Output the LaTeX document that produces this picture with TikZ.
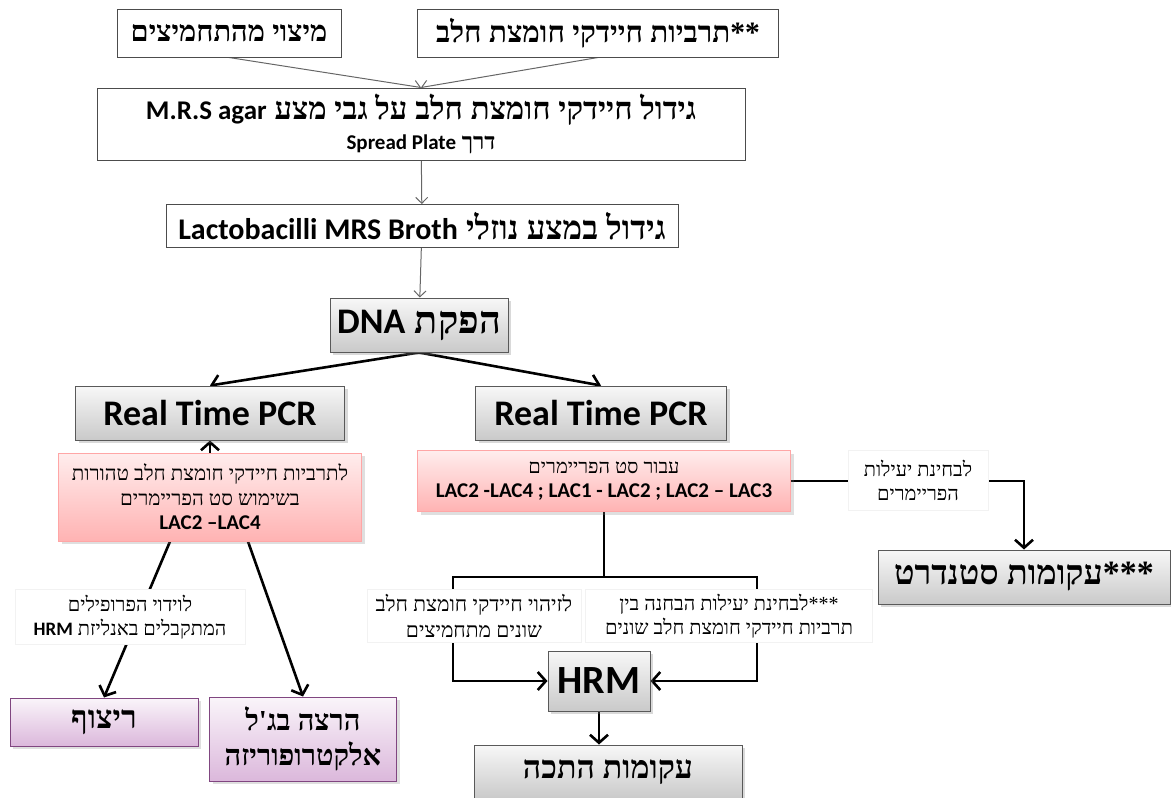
\documentclass[tikz,border=0pt]{standalone}
\usepackage{fontspec}
\setmainfont{Liberation Serif}
\newfontfamily\hebfont[Script=Hebrew]{Liberation Serif}
\newfontfamily\latfont{Carlito}
\TeXXeTstate=1
\usetikzlibrary{arrows.meta, positioning, shadows, backgrounds, calc}

\newcommand{\heb}[1]{{\hebfont\beginR #1\endR}}
\newcommand{\lat}[1]{{\latfont\bfseries\beginL #1\endL}}
\newcommand{\fs}[1]{\fontsize{#1}{1.2\dimexpr#1pt\relax}\selectfont}

\begin{document}
\begin{tikzpicture}[
    x=1pt, y=-1pt,
    plainbox/.style={rectangle, draw=black!70, line width=1pt, fill=white, inner sep=2pt, align=center},
    graybox/.style={rectangle, draw=black!65, line width=1pt, top color=gray!6, bottom color=gray!42, inner sep=2pt, align=center, font=\bfseries, drop shadow={opacity=0.3, shadow xshift=3pt, shadow yshift=-3pt}},
    pinkbox/.style={rectangle, draw=red!35, line width=1pt, top color=red!7, bottom color=red!30, inner sep=2pt, align=center, drop shadow={opacity=0.25, shadow xshift=3pt, shadow yshift=-3pt}},
    lilacbox/.style={rectangle, draw=violet!45!gray, line width=1pt, top color=violet!4, bottom color=violet!28, inner sep=2pt, align=center, font=\bfseries, drop shadow={opacity=0.25, shadow xshift=3pt, shadow yshift=-3pt}},
    notebox/.style={rectangle, draw=gray!10, fill=white, inner sep=2pt, align=center, font=\fs{20}},
    thinarrow/.style={draw=black!60, line width=1pt, -{Straight Barb[length=6pt, width=12pt]}},
    thickarrow/.style={draw=black, line width=2.6pt, -{Straight Barb[length=8pt, width=18pt]}},
    thickline/.style={draw=black, line width=2.6pt},
]
    \useasboundingbox (0,0) rectangle (1171,798);

    % Sources
    \node[plainbox, font=\fs{29}\bfseries, minimum width=224pt, minimum height=48pt] (extract) at (229,33) {\heb{מיצוי מהתחמיצים}};
    \node[plainbox, font=\fs{29.5}\bfseries, minimum width=361pt, minimum height=48pt] (cultures) at (598,33) {\heb{**תרביות חיידקי חומצת חלב}};

    % Growth
    \node[plainbox, font=\fs{31}\bfseries, minimum width=648pt, minimum height=72pt] (agar) at (421,124) {\heb{גידול חיידקי חומצת חלב על גבי מצע {\fs{27}\lat{M.R.S agar}}}\\[-7pt]\relax{\fs{23}\bfseries\heb{דרך {\fs{21}\lat{Spread Plate}}}}};
    \node[plainbox, font=\fs{33}\bfseries, minimum width=512pt, minimum height=43pt] (broth) at (422,226) {\heb{גידול במצע נוזלי {\fs{30}\lat{Lactobacilli MRS Broth}}}};

    % DNA and PCR
    \node[graybox, font=\fs{38}\bfseries, minimum width=178pt, minimum height=54pt] (dna) at (419,325) {\heb{הפקת {\fs{36}\lat{DNA}}}};
    \node[graybox, font=\fs{36}\bfseries, minimum width=269pt, minimum height=54pt] (pcrL) at (210,413) {\lat{Real Time PCR}};
    \node[graybox, font=\fs{36}\bfseries, minimum width=251pt, minimum height=54pt] (pcrR) at (601,413) {\lat{Real Time PCR}};

    % Primer sets
    \node[pinkbox, font=\fs{20.5}, minimum width=303pt, minimum height=88pt] (pureL) at (210,497) {\heb{לתרביות חיידקי חומצת חלב טהורות}\\\heb{בשימוש סט הפריימרים}\\{\fs{21}\lat{LAC2 –LAC4}}};
    \node[pinkbox, font=\fs{20}, minimum width=373pt, minimum height=61pt] (setsR) at (604,481) {\heb{עבור סט הפריימרים}\\{\fs{21}\lat{LAC2 -LAC4 ; LAC1 - LAC2 ; LAC2 – LAC3}}};

    % Notes
    \node[notebox, minimum width=140pt, minimum height=60pt] (effnote) at (918,480) {\heb{לבחינת יעילות}\\\heb{הפריימרים}};
    \node[notebox, minimum width=230pt, minimum height=55pt] (seqnote) at (130,617) {\heb{לוידוי הפרופילים}\\\heb{המתקבלים באנליזת {\fs{19}\lat{HRM}}}};
    \node[notebox, font=\fs{21}, minimum width=214pt, minimum height=53pt] (idnote) at (474,616) {\heb{לזיהוי חיידקי חומצת חלב}\\\heb{שונים מתחמיצים}};
    \node[notebox, minimum width=287pt, minimum height=53pt] (discnote) at (729,616) {\heb{***לבחינת יעילות הבחנה בין}\\\heb{תרביות חיידקי חומצת חלב שונים}};

    % Results
    \node[graybox, font=\fs{34}\bfseries, minimum width=292pt, minimum height=54pt] (stdcurve) at (1024,577) {\heb{***עקומות סטנדרט}};
    \node[graybox, font=\fs{40}\bfseries, minimum width=102pt, minimum height=60pt] (hrm) at (599,681) {\lat{HRM}};
    \node[graybox, font=\fs{32}\bfseries, minimum width=268pt, minimum height=54pt] (melt) at (608,772) {\heb{עקומות התכה}};
    \node[lilacbox, font=\fs{32}\bfseries, minimum width=188pt, minimum height=48pt] (seq) at (104,722) {\heb{ריצוף}};
    \node[lilacbox, font=\fs{29}\bfseries, minimum width=187pt, minimum height=84pt] (gel) at (303,739) {\heb{הרצה בג'ל}\\\heb{אלקטרופוריזה}};

    \coordinate (split) at (604,577);
    \coordinate (bendL) at (453,681);
    \coordinate (bendR) at (757,681);

    \begin{pgfonlayer}{background}
    \draw[thinarrow] (extract.south) -- (agar.north);
    \draw[thinarrow] (cultures.south) -- (agar.north);
    \draw[thinarrow] (agar) -- (broth);
    \draw[thinarrow] (broth) -- (dna);
    \draw[thickarrow] (dna.south) -- (pcrL.north);
    \draw[thickarrow] (dna.south) -- (pcrR.north);
    \draw[thickarrow] (pureL.north) -- (pcrL.south);
    \draw[thickarrow] ($(pureL.south)+(-40,0)$) -- (seq.north);
    \draw[thickarrow] ($(pureL.south)+(38,0)$) -- (gel.north);
    \draw[thickline] (setsR.south) -- (split);
    \draw[thickarrow] (split) -| (bendL) -- (hrm.west);
    \draw[thickarrow] (split) -| (bendR) -- (hrm.east);
    \draw[thickarrow] (setsR.east) -| (stdcurve.north);
    \draw[thickarrow] (hrm.south) -- (hrm.south |- melt.north);
    \end{pgfonlayer}
\end{tikzpicture}
\end{document}
